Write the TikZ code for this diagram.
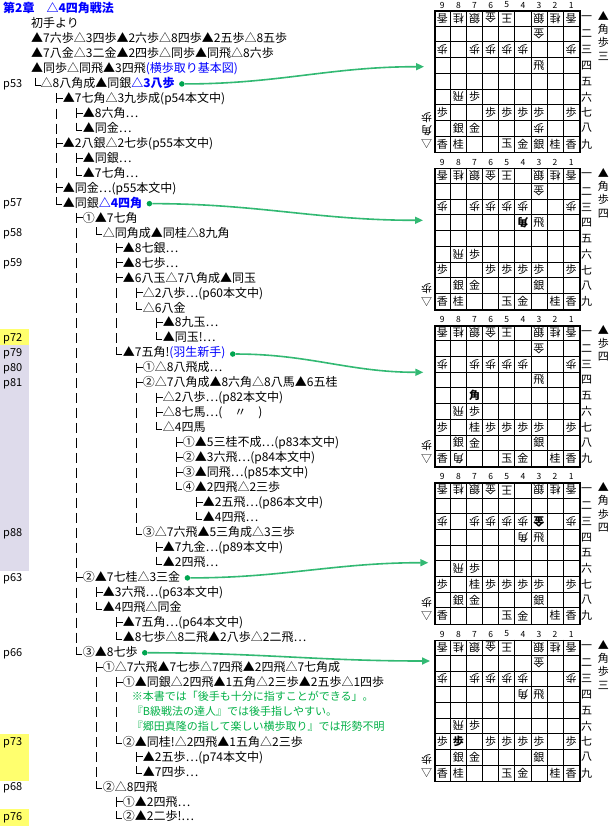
\documentclass[tikz,border=0pt]{standalone}
\usepackage{fontspec}
\newfontfamily\jp{Noto Sans CJK JP}
\newfontfamily\jpfw[RawFeature=+fwid]{Noto Sans CJK JP}
\usetikzlibrary{arrows.meta}
\definecolor{tblue}{RGB}{0,0,255}
\definecolor{tgreen}{RGB}{0,176,70}
\definecolor{agreen}{RGB}{50,185,115}
\definecolor{dgreen}{RGB}{0,165,80}
\definecolor{lav}{RGB}{222,219,235}
\definecolor{hyel}{RGB}{255,255,110}
\newcommand\xE{{\jpfw …}}
\newcommand\xY[1]{8.3+(#1-1)*14.97}
\newcommand\xTL[3]{\node[txt] (t#1) at (#2,{\xY{#1}+4.3}) {#3};}
\newcommand\xGL[3]{\node[gtxt] (t#1) at (#2,{\xY{#1}+4.0}) {#3};}
\newcommand\xPG[2]{\node[pg] (pg#2) at (3,{\xY{#1}+4.0}) {p#2};}
\newcommand\xVB[2]{\draw[tree] (#2,{\xY{#1}-4.5}) -- ++(0,10);}
\newcommand\xTJ[2]{\draw[tree] (#2,{\xY{#1}-5}) -- ++(0,10) (#2,{\xY{#1}}) -- ++(6,0);}
\newcommand\xLJ[2]{\draw[tree] (#2,{\xY{#1}-5.5}) |- ++(5,7.5);}
\newcommand\xDot[1]{\node[dot] (d#1) at ([xshift=7pt,yshift=-1pt]t#1.east) {};}
\newcommand\xPC[5]{\node[#5] (p#1#2#3) at ({434.3+(9.5-#2)*16.1},{10.5+(#1-1)*157.25+(#3-0.5)*15.7}) {#4};}
\newcommand\xTop[1]{\xPC{#1}{9}{1}{香}{wh}\xPC{#1}{8}{1}{桂}{wh}\xPC{#1}{7}{1}{銀}{wh}\xPC{#1}{6}{1}{金}{wh}\xPC{#1}{5}{1}{王}{wh}\xPC{#1}{3}{1}{銀}{wh}\xPC{#1}{2}{1}{桂}{wh}\xPC{#1}{1}{1}{香}{wh}}
\newcommand\xBoard[1]{%
  \pgfmathsetmacro\bt{10.5+(#1-1)*157.25}
  \node[brd] (brd#1) at (434.3,\bt) {};
  \foreach \i in {1,...,8}{\draw[gridl] ({434.3+\i*16.1},\bt) -- ++(0,141.3); \draw[gridl] (434.3,{\bt+\i*15.7}) -- ++(144.9,0);}
  \foreach \f in {1,...,9}{\node[num] (n#1\f) at ({434.3+(9.5-\f)*16.1},{\bt-5.5}) {\f};}
  \foreach \r/\k in {1/一,2/二,3/三,4/四,5/五,6/六,7/七,8/八,9/九}{\node[rk] (r#1\r) at (586.7,{\bt+(\r-0.5)*15.7}) {\k};}
  \xTop{#1}
}
\newcommand\xBH[2]{\pgfmathsetmacro\bt{10.5+(#1-1)*157.25}
  \foreach \c [count=\n] in {#2}{\node[rk] (bh#1\n) at (603.3,{\bt+5+(\n-1)*13.5}) {\c};}}
\newcommand\xWH[2]{\pgfmathsetmacro\bt{10.5+(#1-1)*157.25}
  \foreach \c [count=\n] in {#2}{\node[rk,rotate=180] (wh#1\n) at (426.7,{\bt+134-(\n-1)*13.5}) {\c};}}
\tikzset{
  txt/.style={anchor=base west, inner sep=0pt, font=\jp\fontsize{12}{14}\selectfont},
  gtxt/.style={anchor=base west, inner sep=0pt, text=tgreen, font=\jp\fontsize{11}{13}\selectfont},
  pg/.style={anchor=base west, inner sep=0pt, font=\jp\fontsize{11}{13}\selectfont},
  tree/.style={line width=0.9pt, black},
  bk/.style={inner sep=0pt, font=\jp\fontsize{11}{11}\selectfont},
  wh/.style={bk, rotate=180},
  bkB/.style={inner sep=0pt, font=\jp\bfseries\fontsize{11}{11}\selectfont},
  whB/.style={bkB, rotate=180},
  num/.style={inner sep=0pt, font=\jp\fontsize{8.5}{9}\selectfont},
  rk/.style={inner sep=0pt, font=\jp\fontsize{11}{11}\selectfont},
  brd/.style={draw, line width=1.6pt, anchor=north west, minimum width=144.9pt, minimum height=141.3pt, inner sep=0pt},
  gridl/.style={line width=0.8pt},
  dot/.style={circle, fill=dgreen, inner sep=0pt, minimum size=5.5pt},
  arr/.style={agreen, line width=1.6pt, -{Triangle[length=8pt,width=7pt]}},
}
\begin{document}
\begin{tikzpicture}[x=1pt,y=-1pt]
\useasboundingbox (0,0) rectangle (612,826);
\fill[white] (0,0) rectangle (612,826);
% page label backgrounds
\fill[hyel] (0,329.3) rectangle (29.3,345.1);
\fill[lav] (0,345.1) rectangle (29.3,570.5);
\fill[hyel] (0,734.3) rectangle (29.3,780.5);
\fill[hyel] (0,809.2) rectangle (29.3,826);
% page labels
\xPG{6}{53}\xPG{14}{57}\xPG{16}{58}\xPG{18}{59}\xPG{23}{72}\xPG{24}{79}\xPG{25}{80}\xPG{26}{81}
\xPG{36}{88}\xPG{39}{63}\xPG{44}{66}\xPG{50}{73}\xPG{53}{68}\xPG{55}{76}
% text lines
\xTL{1}{3}{\bfseries\color{tblue}第2章　△4四角戦法}
\xTL{2}{31}{初手より}
\xTL{3}{31}{▲7六歩△3四歩▲2六歩△8四歩▲2五歩△8五歩}
\xTL{4}{31}{▲7八金△3二金▲2四歩△同歩▲同飛△8六歩}
\xTL{5}{31}{▲同歩△同飛▲3四飛\textcolor{tblue}{(横歩取り基本図)}}
\xLJ{6}{35.7}\xTL{6}{40.5}{△8八角成▲同銀\textbf{\textcolor{tblue}{△3八歩}}}
\xTJ{7}{56.7}\xTL{7}{62.7}{▲7七角△3九歩成(p54本文中)}
\xVB{8}{56.7}\xTJ{8}{76.7}\xTL{8}{82.7}{▲8六角\xE}
\xVB{9}{56.7}\xLJ{9}{76.7}\xTL{9}{82.7}{▲同金\xE}
\xTJ{10}{56.7}\xTL{10}{62.7}{▲2八銀△2七歩(p55本文中)}
\xVB{11}{56.7}\xTJ{11}{76.7}\xTL{11}{82.7}{▲同銀\xE}
\xVB{12}{56.7}\xLJ{12}{76.7}\xTL{12}{82.7}{▲7七角\xE}
\xTJ{13}{56.7}\xTL{13}{62.7}{▲同金\xE(p55本文中)}
\xLJ{14}{56.7}\xTL{14}{62.7}{▲同銀\textbf{\textcolor{tblue}{△4四角}}}
\xTJ{15}{76.7}\xTL{15}{82.7}{①▲7七角}
\xVB{16}{76.7}\xLJ{16}{96.7}\xTL{16}{102.7}{△同角成▲同桂△8九角}
\xVB{17}{76.7}\xTJ{17}{116.7}\xTL{17}{122.7}{▲8七銀\xE}
\xVB{18}{76.7}\xTJ{18}{116.7}\xTL{18}{122.7}{▲8七歩\xE}
\xVB{19}{76.7}\xTJ{19}{116.7}\xTL{19}{122.7}{▲6八玉△7八角成▲同玉}
\xVB{20}{76.7}\xVB{20}{116.7}\xTJ{20}{136.7}\xTL{20}{142.7}{△2八歩\xE(p60本文中)}
\xVB{21}{76.7}\xVB{21}{116.7}\xLJ{21}{136.7}\xTL{21}{142.7}{△6八金}
\xVB{22}{76.7}\xVB{22}{116.7}\xTJ{22}{156.7}\xTL{22}{162.7}{▲8九玉\xE}
\xVB{23}{76.7}\xVB{23}{116.7}\xLJ{23}{156.7}\xTL{23}{162.7}{▲同玉!\xE}
\xVB{24}{76.7}\xLJ{24}{116.7}\xTL{24}{122.7}{▲7五角!\textcolor{tblue}{(羽生新手)}}
\xVB{25}{76.7}\xTJ{25}{136.7}\xTL{25}{142.7}{①△8八飛成\xE}
\xVB{26}{76.7}\xTJ{26}{136.7}\xTL{26}{142.7}{②△7八角成▲8六角△8八馬▲6五桂}
\xVB{27}{76.7}\xVB{27}{136.7}\xTJ{27}{156.7}\xTL{27}{162.7}{△2八歩\xE(p82本文中)}
\xVB{28}{76.7}\xVB{28}{136.7}\xTJ{28}{156.7}\xTL{28}{162.7}{△8七馬\xE(　〃　)}
\xVB{29}{76.7}\xVB{29}{136.7}\xLJ{29}{156.7}\xTL{29}{162.7}{△4四馬}
\xVB{30}{76.7}\xVB{30}{136.7}\xTJ{30}{176.7}\xTL{30}{182.7}{①▲5三桂不成\xE(p83本文中)}
\xVB{31}{76.7}\xVB{31}{136.7}\xTJ{31}{176.7}\xTL{31}{182.7}{②▲3六飛\xE(p84本文中)}
\xVB{32}{76.7}\xVB{32}{136.7}\xTJ{32}{176.7}\xTL{32}{182.7}{③▲同飛\xE(p85本文中)}
\xVB{33}{76.7}\xVB{33}{136.7}\xLJ{33}{176.7}\xTL{33}{182.7}{④▲2四飛△2三歩}
\xVB{34}{76.7}\xVB{34}{136.7}\xTJ{34}{196.7}\xTL{34}{202.7}{▲2五飛\xE(p86本文中)}
\xVB{35}{76.7}\xVB{35}{136.7}\xLJ{35}{196.7}\xTL{35}{202.7}{▲4四飛\xE}
\xVB{36}{76.7}\xLJ{36}{136.7}\xTL{36}{142.7}{③△7六飛▲5三角成△3三歩}
\xVB{37}{76.7}\xTJ{37}{156.7}\xTL{37}{162.7}{▲7九金\xE(p89本文中)}
\xVB{38}{76.7}\xLJ{38}{156.7}\xTL{38}{162.7}{▲2四飛\xE}
\xTJ{39}{76.7}\xTL{39}{82.7}{②▲7七桂△3三金}
\xVB{40}{76.7}\xTJ{40}{96.7}\xTL{40}{102.7}{▲3六飛\xE(p63本文中)}
\xVB{41}{76.7}\xLJ{41}{96.7}\xTL{41}{102.7}{▲4四飛△同金}
\xVB{42}{76.7}\xTJ{42}{116.7}\xTL{42}{122.7}{▲7五角\xE(p64本文中)}
\xVB{43}{76.7}\xLJ{43}{116.7}\xTL{43}{122.7}{▲8七歩△8二飛▲2八歩△2二飛\xE}
\xLJ{44}{76.7}\xTL{44}{82.7}{③▲8七歩}
\xTJ{45}{96.7}\xTL{45}{102.7}{①△7六飛▲7七歩△7四飛▲2四飛△7七角成}
\xVB{46}{96.7}\xTJ{46}{116.7}\xTL{46}{122.7}{①▲同銀△2四飛▲1五角△2三歩▲2五歩△1四歩}
\xVB{47}{96.7}\xVB{47}{116.7}\xGL{47}{131.7}{※本書では「後手も十分に指すことができる」。}
\xVB{48}{96.7}\xVB{48}{116.7}\xGL{48}{131.7}{『B級戦法の達人』では後手指しやすい。}
\xVB{49}{96.7}\xVB{49}{116.7}\xGL{49}{131.7}{『郷田真隆の指して楽しい横歩取り』では形勢不明}
\xVB{50}{96.7}\xLJ{50}{116.7}\xTL{50}{122.7}{②▲同桂!△2四飛▲1五角△2三歩}
\xVB{51}{96.7}\xTJ{51}{136.7}\xTL{51}{142.7}{▲2五歩\xE(p74本文中)}
\xVB{52}{96.7}\xLJ{52}{136.7}\xTL{52}{142.7}{▲7四歩\xE}
\xLJ{53}{96.7}\xTL{53}{102.7}{②△8四飛}
\xTJ{54}{116.7}\xTL{54}{122.7}{①▲2四飛\xE}
\xLJ{55}{116.7}\xTL{55}{122.7}{②▲2二歩!\xE}
% boards
\foreach \k in {1,...,5}{\xBoard{\k}}
% board 1
\xPC{1}{3}{2}{金}{wh}
\foreach \f in {9,7,6,5,4,1}{\xPC{1}{\f}{3}{歩}{wh}}
\xPC{1}{3}{4}{飛}{bk}
\xPC{1}{8}{6}{飛}{wh}\xPC{1}{7}{6}{歩}{bk}
\foreach \f in {9,6,5,4,3,1}{\xPC{1}{\f}{7}{歩}{bk}}
\xPC{1}{8}{8}{銀}{bk}\xPC{1}{7}{8}{金}{bk}\xPC{1}{3}{8}{歩}{wh}
\xPC{1}{9}{9}{香}{bk}\xPC{1}{8}{9}{桂}{bk}\xPC{1}{5}{9}{玉}{bk}\xPC{1}{4}{9}{金}{bk}\xPC{1}{3}{9}{銀}{bk}\xPC{1}{2}{9}{桂}{bk}\xPC{1}{1}{9}{香}{bk}
\xBH{1}{▲,角,歩,三}\xWH{1}{△,角,歩}
% board 2
\xPC{2}{3}{2}{金}{wh}
\foreach \f in {9,7,6,5,4,1}{\xPC{2}{\f}{3}{歩}{wh}}
\xPC{2}{4}{4}{角}{whB}\xPC{2}{3}{4}{飛}{bk}
\xPC{2}{8}{6}{飛}{wh}\xPC{2}{7}{6}{歩}{bk}
\foreach \f in {9,6,5,4,3,1}{\xPC{2}{\f}{7}{歩}{bk}}
\xPC{2}{8}{8}{銀}{bk}\xPC{2}{7}{8}{金}{bk}\xPC{2}{3}{8}{銀}{bk}
\xPC{2}{9}{9}{香}{bk}\xPC{2}{8}{9}{桂}{bk}\xPC{2}{5}{9}{玉}{bk}\xPC{2}{4}{9}{金}{bk}\xPC{2}{2}{9}{桂}{bk}\xPC{2}{1}{9}{香}{bk}
\xBH{2}{▲,角,歩,四}\xWH{2}{△,歩}
% board 3
\xPC{3}{3}{2}{金}{wh}
\foreach \f in {9,7,6,5,4,1}{\xPC{3}{\f}{3}{歩}{wh}}
\xPC{3}{3}{4}{飛}{bk}
\xPC{3}{7}{5}{角}{bkB}
\xPC{3}{8}{6}{飛}{wh}\xPC{3}{7}{6}{歩}{bk}
\xPC{3}{7}{7}{桂}{bk}
\foreach \f in {9,6,5,4,3,1}{\xPC{3}{\f}{7}{歩}{bk}}
\xPC{3}{8}{8}{銀}{bk}\xPC{3}{7}{8}{金}{bk}\xPC{3}{3}{8}{銀}{bk}
\xPC{3}{9}{9}{香}{bk}\xPC{3}{8}{9}{角}{wh}\xPC{3}{5}{9}{玉}{bk}\xPC{3}{4}{9}{金}{bk}\xPC{3}{2}{9}{桂}{bk}\xPC{3}{1}{9}{香}{bk}
\xBH{3}{▲,歩,四}\xWH{3}{△,歩}
% board 4
\foreach \f in {9,7,6,5,4,1}{\xPC{4}{\f}{3}{歩}{wh}}
\xPC{4}{3}{3}{金}{whB}
\xPC{4}{4}{4}{角}{wh}\xPC{4}{3}{4}{飛}{bk}
\xPC{4}{8}{6}{飛}{wh}\xPC{4}{7}{6}{歩}{bk}
\xPC{4}{7}{7}{桂}{bk}
\foreach \f in {9,6,5,4,3,1}{\xPC{4}{\f}{7}{歩}{bk}}
\xPC{4}{8}{8}{銀}{bk}\xPC{4}{7}{8}{金}{bk}\xPC{4}{3}{8}{銀}{bk}
\xPC{4}{9}{9}{香}{bk}\xPC{4}{5}{9}{玉}{bk}\xPC{4}{4}{9}{金}{bk}\xPC{4}{2}{9}{桂}{bk}\xPC{4}{1}{9}{香}{bk}
\xBH{4}{▲,角,歩,四}\xWH{4}{△,歩}
% board 5
\xPC{5}{3}{2}{金}{wh}
\foreach \f in {9,7,6,5,4,1}{\xPC{5}{\f}{3}{歩}{wh}}
\xPC{5}{4}{4}{角}{wh}\xPC{5}{3}{4}{飛}{bk}
\xPC{5}{8}{6}{飛}{wh}\xPC{5}{7}{6}{歩}{bk}
\xPC{5}{8}{7}{歩}{bkB}
\foreach \f in {9,6,5,4,3,1}{\xPC{5}{\f}{7}{歩}{bk}}
\xPC{5}{8}{8}{銀}{bk}\xPC{5}{7}{8}{金}{bk}\xPC{5}{3}{8}{銀}{bk}
\xPC{5}{9}{9}{香}{bk}\xPC{5}{8}{9}{桂}{bk}\xPC{5}{5}{9}{玉}{bk}\xPC{5}{4}{9}{金}{bk}\xPC{5}{2}{9}{桂}{bk}\xPC{5}{1}{9}{香}{bk}
\xBH{5}{▲,角,歩,三}\xWH{5}{△,歩}
% dots and arrows
\xDot{6}\xDot{14}\xDot{24}\xDot{39}\xDot{44}
\coordinate (a6) at (424,66.7);
\coordinate (a14) at (423,220.3);
\coordinate (a24) at (423.3,372.3);
\coordinate (a39) at (428.3,562.7);
\coordinate (a44) at (430,661);
\foreach \s in {6,14,24,39,44}{\draw[arr] (d\s) to[out=0,in=180] (a\s);}
\end{tikzpicture}
\end{document}
